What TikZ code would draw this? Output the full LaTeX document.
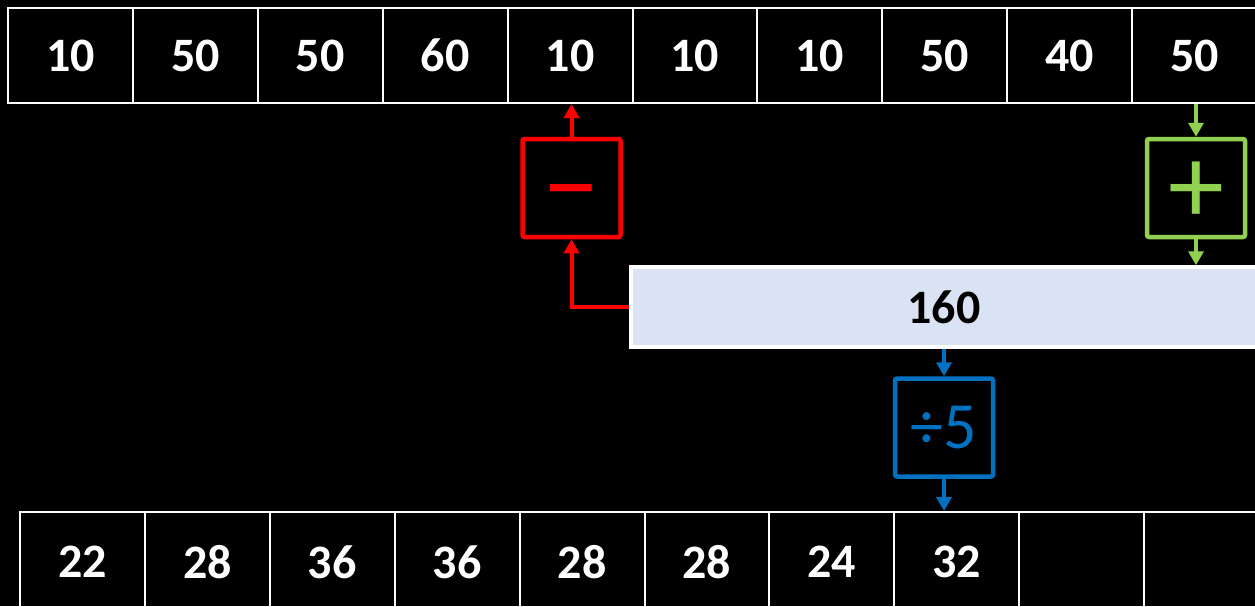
\documentclass[tikz,border=0pt]{standalone}
\usepackage{fontspec}
\setmainfont{Carlito}
\usetikzlibrary{arrows.meta}
\definecolor{opred}{HTML}{FF0000}
\definecolor{opgreen}{HTML}{92D050}
\definecolor{opblue}{HTML}{0070C0}
\definecolor{barfill}{HTML}{DAE3F3}
\tikzset{
  cell/.style={draw=white, line width=2pt, minimum width=124.9pt, minimum height=95pt,
    inner sep=0pt, text=white, font=\fontsize{48}{48}\selectfont\bfseries},
  bcell/.style={cell, minimum height=100pt},
  opbox/.style={line width=4.5pt, rounded corners=2pt, minimum width=98pt, minimum height=98pt, inner sep=0pt},
  opsym/.style={font=\fontsize{112}{112}\selectfont},
  conn/.style={line width=4pt, -{Triangle[width=15pt,length=14pt]}},
}
\begin{document}
\begin{tikzpicture}[x=1pt,y=-1pt]
\fill[black] (0,0) rectangle (1255,606);
\useasboundingbox (0,0) rectangle (1255,606);
\foreach \v [count=\i] in {10,50,50,60,10,10,10,50,40,50}
  \node[cell] (t\i) at ({8+124.9*(\i-0.5)},55.5) {\v};
\foreach \v [count=\i] in {22,28,36,36,28,28,24,32,{},{}}
  \node[bcell] (b\i) at ({20+124.9*(\i-0.5)},562) {\v};
\node[draw=white, line width=3.5pt, fill=barfill, minimum width=626pt, minimum height=80pt,
  inner sep=0pt, font=\fontsize{48}{48}\selectfont\bfseries] (bar) at (944,307) {160};
\node[opbox, opsym, draw=opred, text=opred] (minus) at (571.5,188) {\raisebox{-5pt}[\height][0pt]{\vphantom{+}−}};
\node[opbox, opsym, draw=opgreen, text=opgreen] (plus) at (1196,188) {\raisebox{-5pt}[\height][0pt]{+}};
\node[opbox, draw=opblue, text=opblue, font=\fontsize{66}{66}\selectfont] (div) at (944,427.5) {÷5};
\draw[conn, opred] (minus.north) -- (minus.north |- t5.south);
\draw[conn, opred] (bar.west) -- (bar.west -| minus.south) -- (minus.south);
\draw[conn, opgreen] (t10.south -| plus.north) -- (plus.north);
\draw[conn, opgreen] (plus.south) -- (plus.south |- bar.north);
\draw[conn, opblue] (bar.south -| div.north) -- (div.north);
\draw[conn, opblue] (div.south) -- (div.south |- b8.north);
\end{tikzpicture}
\end{document}
